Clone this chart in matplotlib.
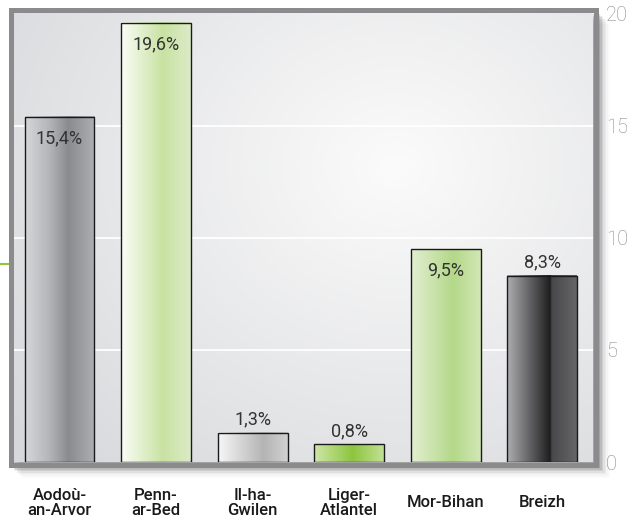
import numpy as np
import matplotlib
matplotlib.use("Agg")
import matplotlib.pyplot as plt
from matplotlib.colors import LinearSegmentedColormap, to_rgb
from matplotlib.patches import Rectangle
from matplotlib.lines import Line2D

# ---- data ----
categories = ["Aodoù-\nan-Arvor", "Penn-\nar-Bed", "Il-ha-\nGwilen",
              "Liger-\nAtlantel", "Mor-Bihan", "Breizh"]
values = [15.4, 19.6, 1.3, 0.8, 9.5, 8.3]
value_labels = ["15,4%", "19,6%", "1,3%", "0,8%", "9,5%", "8,3%"]
y_ticks = [0, 5, 10, 15, 20]

# ---- styles ----
grads = [
    [(0, '#d6d7d9'), (0.35, '#b4b5b8'), (0.62, '#8a8b8f'), (1, '#aeafb2')],
    [(0, '#fbfdf7'), (0.6, '#c8e2a2'), (1, '#dcebc8')],
    [(0, '#f7f7f7'), (0.65, '#b4b4b4'), (1, '#d2d2d2')],
    [(0, '#cfe6a8'), (0.55, '#8cc63e'), (1, '#c3e095')],
    [(0, '#e2efd2'), (0.6, '#b4d889'), (1, '#d2e7b6')],
    [(0, '#aeaeb2'), (0.62, '#1e1e1e'), (0.64, '#48484a'), (1, '#666668')],
]

W, H = 627, 517
fig = plt.figure(figsize=(W / 100, H / 100), dpi=100)
fig.patch.set_facecolor('white')


def fx(px):
    return px / W


def fy(py):
    return 1 - py / H


# shadow behind frame
for i, a in enumerate([0.16, 0.12, 0.09, 0.06, 0.04, 0.03, 0.02]):
    off = 2 + i * 1.6
    fig.add_artist(Rectangle((fx(10 + off), fy(466 + off)),
                             fx(588), fy(12) - fy(466),
                             transform=fig.transFigure, facecolor='#303030',
                             edgecolor='none', alpha=a, zorder=-2))

ax = fig.add_axes([fx(13), fy(462), fx(593) - fx(13), fy(13) - fy(462)])
ax.set_zorder(1)

# radial background
ny, nx = 200, 260
xx, yy = np.meshgrid(np.linspace(0, 1, nx), np.linspace(0, 1, ny))
cx, cy = 0.66, 0.66
d = np.sqrt(((xx - cx) / 0.85) ** 2 + ((yy - cy) / 0.95) ** 2)
d = np.clip(d, 0, 1)
c0 = np.array(to_rgb('#fbfbfb'))
c1 = np.array(to_rgb('#d7d8db'))
img = c0[None, None, :] * (1 - d[..., None]) + c1[None, None, :] * d[..., None]
ax.imshow(img, extent=(0, 1, 0, 1), transform=ax.transAxes, aspect='auto',
          origin='lower', zorder=0, interpolation='bilinear')

for yv in y_ticks[1:-1]:
    ax.axhline(yv, color='white', lw=1.3, zorder=1)

x = np.arange(len(values))
width = 0.725
for i, v in enumerate(values):
    cmap = LinearSegmentedColormap.from_list(f'g{i}', grads[i])
    grad = np.linspace(0, 1, 256)[None, :]
    ax.imshow(grad, cmap=cmap, extent=(x[i] - width / 2, x[i] + width / 2, 0, v),
              aspect='auto', zorder=2, interpolation='bilinear')
ax.bar(x, values, width, facecolor='none', edgecolor='#1a1a1a', lw=1.0, zorder=3)

for i, v in enumerate(values):
    off = -15.5 if v >= 9 else 9.5
    ax.annotate(value_labels[i], (x[i], v), xytext=(0, off),
                textcoords='offset points', ha='center', va='center',
                fontsize=13, color='#333333', family='Roboto',
                fontweight='normal', zorder=4)

ax.set_xlim(-0.482, 5.528)
ax.set_ylim(0.1, 20.03)

ax.set_xticks(x)
ax.set_xticklabels(categories, fontsize=12, family='Roboto', fontweight='medium',
                   color='#1a1a1a', linespacing=1.0, va='center')
ax.tick_params(axis='x', length=0, pad=29.5)
ax.yaxis.tick_right()
ax.set_yticks(y_ticks)
ax.set_yticklabels([str(t) for t in y_ticks], fontsize=14.5, family='Roboto',
                   fontweight='light', color='#8a8a8a')
ax.tick_params(axis='y', length=0, pad=9.5)
for s in ax.spines.values():
    s.set_visible(False)

# frame
fig.add_artist(Rectangle((fx(10.5), fy(464.5)), fx(585), fy(10.5) - fy(464.5),
                         transform=fig.transFigure, facecolor='none',
                         edgecolor='#8b8b8d', lw=3.6, zorder=5))

# small green decoration at left
fig.add_artist(Line2D([fx(0), fx(8)], [fy(264), fy(264)], transform=fig.transFigure,
                      color='#8dc63f', lw=1.5, zorder=5))

fig.savefig('out.png', dpi=100)
